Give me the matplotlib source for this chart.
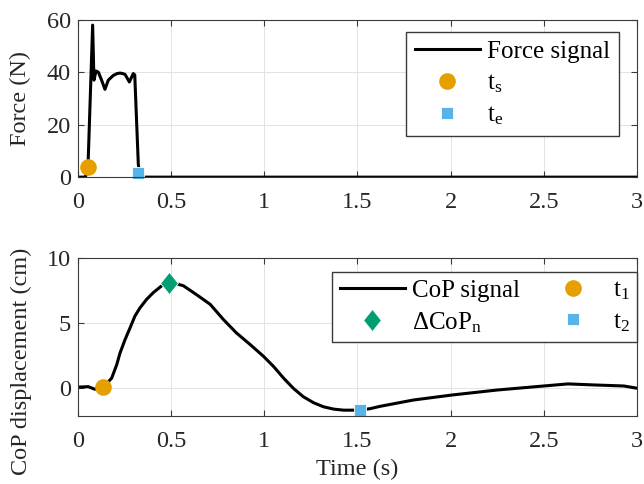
import numpy as np
import matplotlib
matplotlib.use("Agg")
import matplotlib.pyplot as plt
from matplotlib.path import Path

plt.rcParams['font.family'] = ['Liberation Serif', 'DejaVu Serif']
plt.rcParams['mathtext.fontset'] = 'custom'
plt.rcParams['mathtext.rm'] = 'Liberation Serif'
plt.rcParams['mathtext.it'] = 'Liberation Serif:italic'
plt.rcParams['font.size'] = 17.5

# force signal (s, N)
force_t = [0, 0.04, 0.054, 0.079, 0.086, 0.097, 0.11, 0.127, 0.145, 0.163, 0.19,
           0.21, 0.226, 0.24, 0.253, 0.276, 0.297, 0.305, 0.324, 0.33, 0.35, 3.0]
force_v = [0, 0, 4, 58, 37, 40.5, 40, 37, 33.5, 37, 38.8,
           39.5, 39.7, 39.5, 39.2, 36.3, 39.5, 39, 5, 1.7, 0, 0]
ts_point = (0.054, 4)
te_point = (0.324, 1.7)

# CoP displacement (s, cm)
cop_t = [0, 0.055, 0.091, 0.136, 0.181, 0.208, 0.226, 0.253, 0.28, 0.306, 0.333,
         0.369, 0.405, 0.45, 0.489, 0.53, 0.566, 0.638, 0.71, 0.781, 0.85, 0.925,
         0.996, 1.05, 1.104, 1.157, 1.21, 1.265, 1.318, 1.373, 1.426, 1.513, 1.57,
         1.62, 1.80, 2.01, 2.25, 2.50, 2.63, 2.77, 2.93, 3.0]
cop_v = [0.1, 0.14, -0.06, 0.1, 0.79, 1.82, 2.73, 3.76, 4.67, 5.57, 6.2,
         6.86, 7.38, 7.9, 8.15, 8.05, 7.9, 7.2, 6.47, 5.3, 4.28, 3.37,
         2.47, 1.69, 0.79, 0.0, -0.64, -1.1, -1.41, -1.59, -1.67, -1.67, -1.55,
         -1.38, -0.89, -0.5, -0.12, 0.19, 0.35, 0.27, 0.19, 0.02]
t1_point = (0.136, 0.1)
peak_point = (0.489, 8.15)
t2_point = (1.513, -1.67)

xticks = [0, 0.5, 1, 1.5, 2, 2.5, 3]
xticklabels = ['0', '0.5', '1', '1.5', '2', '2.5', '3']

orange = '#E69F00'
skyblue = '#56B4E9'
green = '#009E73'
axcol = '#3a3a3a'

diamond = Path([(0, 1), (0.8, 0), (0, -1), (-0.8, 0), (0, 1)],
               [Path.MOVETO, Path.LINETO, Path.LINETO, Path.LINETO, Path.CLOSEPOLY])

fig = plt.figure(figsize=(6.44, 4.84), dpi=100)
ax1 = fig.add_axes([0.121, 0.634, 0.868, 0.325])
ax2 = fig.add_axes([0.121, 0.141, 0.868, 0.325])


def style(ax):
    ax.grid(True, color='#e3e3e3', lw=0.7)
    ax.set_axisbelow(True)
    ax.tick_params(direction='in', top=True, right=True, colors=axcol,
                   labelcolor='#262626', length=4, width=0.8, pad=5)
    ax.tick_params(axis='x', pad=11)
    for s in ax.spines.values():
        s.set_color(axcol)
        s.set_linewidth(0.8)
    ax.set_xlim(0, 3)
    ax.set_xticks(xticks)
    ax.set_xticklabels(xticklabels)


style(ax1)
ax1.plot(force_t, force_v, color='k', lw=2.2, label='Force signal')
ax1.plot(*ts_point, 'o', color=orange, ms=12, mec='none', clip_on=False,
         label=r'$\mathrm{t_s}$')
ax1.plot(*te_point, 's', color=skyblue, ms=9, mec='white', mew=0.6, clip_on=False,
         label=r'$\mathrm{t_e}$')
ax1.set_ylim(0, 60)
ax1.set_yticks([0, 20, 40, 60])
ax1.set_ylabel('Force (N)', color='#262626')
ax1.yaxis.set_label_coords(-0.083, 0.5)
ax1.legend(loc='upper right', bbox_to_anchor=(0.968, 0.924), borderaxespad=0,
           fancybox=False, edgecolor=axcol, framealpha=1, handlelength=2.6,
           handletextpad=0.3, fontsize=18, borderpad=0.35, labelspacing=0.36)

style(ax2)
ax2.plot(cop_t, cop_v, color='k', lw=2.2, label='CoP signal')
ax2.plot(*peak_point, marker=diamond, color=green, ms=16, mec='white', mew=0.6,
         ls='none', label=r'$\mathrm{\Delta CoP_n}$')
ax2.plot(*t1_point, 'o', color=orange, ms=12, mec='none', label=r'$\mathrm{t_1}$')
ax2.plot(*t2_point, 's', color=skyblue, ms=9, mec='white', mew=0.6, clip_on=False,
         label=r'$\mathrm{t_2}$')
ax2.set_ylim(-2.1, 10)
ax2.set_yticks([0, 5, 10])
ax2.set_ylabel('CoP displacement (cm)', color='#262626')
ax2.yaxis.set_label_coords(-0.083, 0.345)
ax2.set_xlabel('Time (s)', color='#262626', labelpad=5)
ax2.legend(loc='upper right', bbox_to_anchor=(1.0, 0.917), borderaxespad=0, ncol=2,
           fancybox=False, edgecolor=axcol, framealpha=1, handlelength=2.6,
           handletextpad=0.3, fontsize=18, columnspacing=0.8, borderpad=0.3,
           labelspacing=0.34)

fig.savefig('out.png', dpi=100)
